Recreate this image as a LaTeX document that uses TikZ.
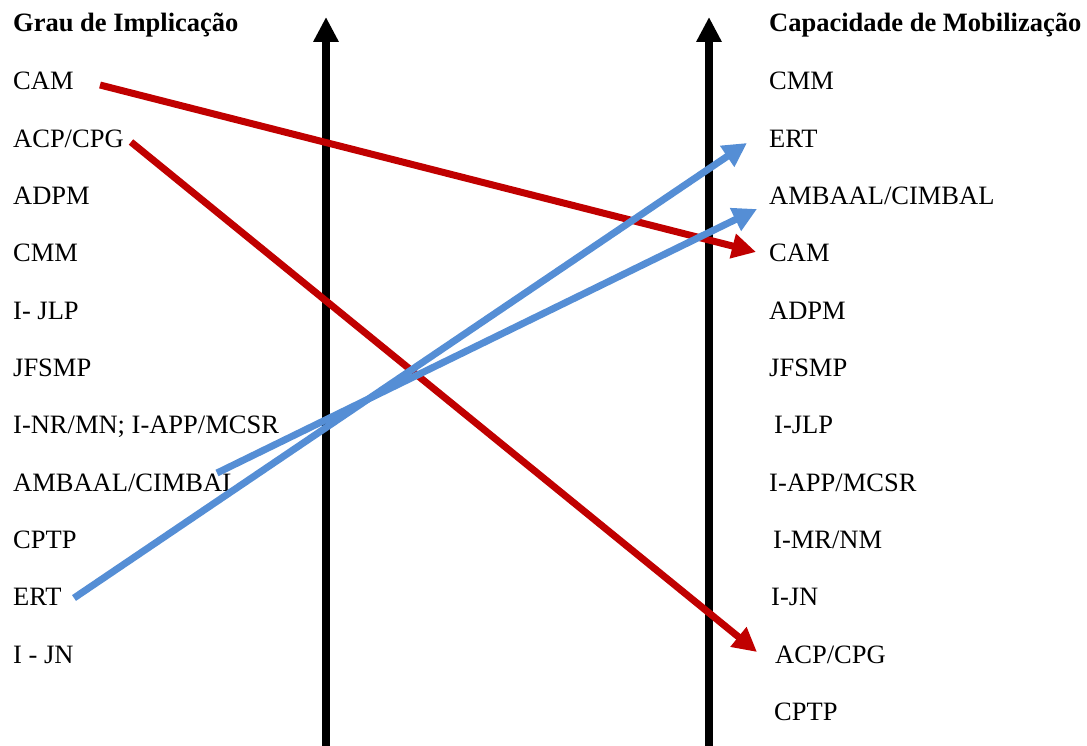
\documentclass[tikz,border=0pt]{standalone}
\usepackage{fontspec}
\setmainfont{Liberation Serif}
\usetikzlibrary{arrows.meta}
\definecolor{cred}{HTML}{C00000}
\definecolor{cblue}{HTML}{558ED5}
\begin{document}
\begin{tikzpicture}[x=1pt,y=-1pt,
  lbl/.style={anchor=base west,inner sep=0pt,font=\fontsize{26.5}{30}\selectfont},
  hd/.style={lbl,font=\fontsize{26.5}{30}\selectfont\bfseries},
  axis/.style={line width=7.5pt,-{Triangle[length=25pt,width=24pt]}},
  link/.style={line width=7pt,-{Triangle[length=24pt,width=24pt]}}]
\useasboundingbox (0,0) rectangle (1087,746);
% headings
\node[hd] (hl) at (13,32) {Grau de Implicação};
\node[hd] (hr) at (769,32) {Capacidade de Mobilização};
% left column
\node[lbl] (L1) at (13,90) {CAM};
\node[lbl] (L2) at (13,147.3) {ACP/CPG};
\node[lbl] (L3) at (13,204.6) {ADPM};
\node[lbl] (L4) at (13,261.9) {CMM};
\node[lbl] (L5) at (13,319.2) {I- JLP};
\node[lbl] (L6) at (13,376.5) {JFSMP};
\node[lbl] (L7) at (13,433.8) {I-NR/MN; I-APP/MCSR};
\node[lbl] (L8) at (13,491.1) {AMBAAL/CIMBAL};
\node[lbl] (L9) at (13,548.4) {CPTP};
\node[lbl] (L10) at (13,605.7) {ERT};
\node[lbl] (L11) at (13,663) {I - JN};
% right column
\node[lbl] (R1) at (769,90) {CMM};
\node[lbl] (R2) at (769,147.3) {ERT};
\node[lbl] (R3) at (769,204.6) {AMBAAL/CIMBAL};
\node[lbl] (R4) at (769,261.9) {CAM};
\node[lbl] (R5) at (769,319.2) {ADPM};
\node[lbl] (R6) at (769,376.5) {JFSMP};
\node[lbl] (R7) at (774,433.8) {I-JLP};
\node[lbl] (R8) at (769,491.1) {I-APP/MCSR};
\node[lbl] (R9) at (773,548.4) {I-MR/NM};
\node[lbl] (R10) at (771,605.7) {I-JN};
\node[lbl] (R11) at (775,663) {ACP/CPG};
\node[lbl] (R12) at (774,720.3) {CPTP};
% axes
\coordinate (a1b) at (326,746); \coordinate (a1t) at (326,17);
\coordinate (a2b) at (709,746); \coordinate (a2t) at (709,17);
\draw[axis] (a1b) -- (a1t);
\draw[axis] (a2b) -- (a2t);
% arrow endpoints
\coordinate (sCAM) at (100,85);   \coordinate (eCAM) at (756,252);
\coordinate (sACP) at (131,142);  \coordinate (eACP) at (757,652);
\coordinate (sERT) at (74,598);   \coordinate (eERT) at (747,143);
\coordinate (sAMB) at (217,473);  \coordinate (eAMB) at (757,209);
\draw[link,cred] (sCAM) -- (eCAM);
\draw[link,cred] (sACP) -- (eACP);
\draw[link,cblue] (sERT) -- (eERT);
\draw[link,cblue] (sAMB) -- (eAMB);
\end{tikzpicture}
\end{document}
